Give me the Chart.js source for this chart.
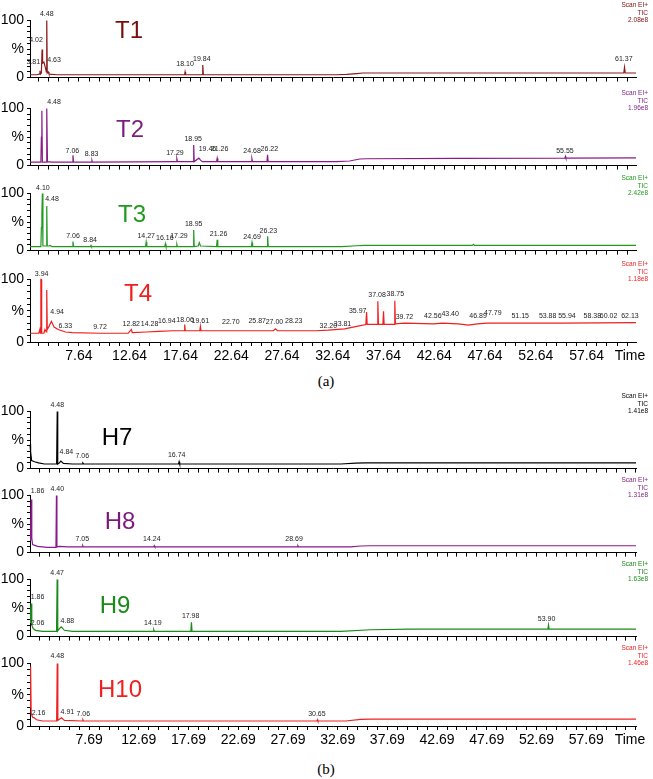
<!DOCTYPE html>
<html><head><meta charset="utf-8">
<script src="https://cdn.jsdelivr.net/npm/chart.js@4.4.1/dist/chart.umd.min.js"></script>
<style>
body{margin:0;background:#fff;width:653px;height:779px;position:relative;overflow:hidden;font-family:"Liberation Sans",Arial,sans-serif}
canvas{position:absolute;left:0}
.ttl{position:absolute;font-size:24px;transform:translate(-50%,-50%);white-space:nowrap}
.hdr{position:absolute;right:5px;font-size:6.5px;line-height:7.5px;text-align:right}
.cap{position:absolute;left:326px;transform:translate(-50%,-50%);font-family:"Liberation Serif","Times New Roman",serif;font-size:15px}
</style></head><body>
<div class="cap" style="top:381px">(a)</div>
<div class="cap" style="top:769px">(b)</div>
<script>
// time axis tick labels
const tickLabelsA = ['7.64','12.64','17.64','22.64','27.64','32.64','37.64','42.64','47.64','52.64','57.64'];
const tickLabelsB = ['7.69','12.69','17.69','22.69','27.69','32.69','37.69','42.69','47.69','52.69','57.69'];

// traces: [time, % intensity]
const t1Trace = [[2.83,5],[3.5,5],[3.75,6],[3.81,12],[3.86,6],[3.95,8],[4.02,49],[4.07,25],[4.2,27],[4.38,15],[4.44,10],[4.48,100],[4.53,8],[4.63,10],[4.7,6],[5.5,5],[10,5],[18.05,5],[18.1,10],[18.15,5],[19.78,5],[19.84,22],[19.9,5],[25,5],[33,5],[34,5.5],[35,7],[35.6,8],[45,8],[55,8],[61.3,8],[61.37,18],[61.44,8],[62.5,8]];
const t1Peaks = [[3.15,19,'3.81'],[3.42,57,'4.02'],[4.48,103,'4.48'],[5.2,22,'4.63'],[18.1,16,'18.10'],[19.75,25,'19.84'],[61.3,25,'61.37']];

const t2Trace = [[2.83,6],[3.9,6],[3.95,50],[4.0,96],[4.05,6],[4.42,6],[4.48,100],[4.55,7],[5,6],[7.0,6],[7.06,18],[7.12,6],[8.88,6],[8.93,9],[8.98,6],[17.23,7],[17.29,12],[17.35,7],[18.89,7],[18.95,36],[19.0,7],[19.46,13],[19.6,10],[19.8,7],[21.2,7],[21.26,13],[21.32,7],[24.62,7],[24.68,12],[24.74,7],[26.16,7],[26.22,19],[26.28,7],[33,7],[34.3,8],[35.3,11.5],[36,12],[45,12.5],[55.5,13],[55.55,16],[55.6,13],[62.5,13.5]];
const t2Peaks = [[5.2,104,'4.48'],[7.0,18,'7.06'],[8.9,12,'8.83'],[17.1,14,'17.29'],[18.9,38,'18.95'],[20.3,21,'19.46'],[21.5,21,'21.26'],[24.7,18,'24.68'],[26.4,21,'26.22'],[55.5,18,'55.55']];

const t3Trace = [[2.83,7],[3.9,7],[3.95,40],[4.0,63],[4.05,100],[4.1,8],[4.42,8],[4.48,78],[4.53,8],[4.7,8],[4.8,9],[5.0,7],[7.0,7],[7.06,16],[7.12,7],[8.79,7],[8.84,9],[8.89,7],[14.21,7],[14.27,15],[14.33,7],[16.1,7],[16.16,12],[16.22,7],[17.23,7],[17.29,11],[17.35,7],[18.9,7],[18.95,36],[19.0,7],[19.4,8],[19.5,14],[19.62,8],[21.2,7],[21.26,19],[21.32,7],[24.63,7],[24.69,14],[24.75,7],[26.17,7],[26.23,25],[26.29,7],[33.5,7],[35,8.5],[35.8,9],[46.4,9],[46.5,11],[46.6,9],[62.5,9]];
const t3Peaks = [[4.1,101,'4.10'],[5.0,83,'4.48'],[7.06,17,'7.06'],[8.75,11,'8.84'],[14.27,18,'14.27'],[16.1,14,'16.16'],[17.5,17,'17.29'],[18.95,38,'18.95'],[21.4,21,'21.26'],[24.7,16,'24.69'],[26.3,27,'26.23']];

const t4Trace = [[2.83,14],[3.7,14],[3.8,20],[3.85,14],[3.9,100],[3.94,100],[3.98,14],[4.2,14],[4.3,20],[4.44,16],[4.48,83],[4.53,20],[4.7,25],[4.94,33],[5.2,24],[5.6,20],[6.33,16],[7,15],[9.72,14],[12.5,14],[12.82,20],[12.9,15],[14.28,16],[15.5,17],[16.94,18],[18.0,18],[18.06,28],[18.12,18],[19.55,18],[19.61,25],[19.67,18],[22.7,18],[25.87,18],[26.8,18],[27.0,21],[27.2,18],[28.23,18],[31,18],[32.2,19],[33.81,21],[35.0,25],[35.9,28],[35.97,48],[36.03,28],[37.02,28],[37.08,65],[37.14,28],[37.58,28],[37.64,49],[37.7,28],[38.69,28],[38.75,66],[38.81,29],[39.72,30],[42.56,29],[43.4,30],[45,29],[46.0,27],[46.89,29],[47.79,30],[51.15,30],[55,30],[62.5,31]];
const t4Peaks = [[3.98,101,'3.94'],[5.5,40,'4.94'],[6.3,18,'6.33'],[9.72,17,'9.72'],[12.8,22,'12.82'],[14.6,22,'14.28'],[16.3,26,'16.94'],[18.1,28,'18.06'],[19.6,27,'19.61'],[22.6,25,'22.70'],[25.2,27,'25.87'],[26.9,25,'27.00'],[28.8,27,'28.23'],[32.2,19,'32.20'],[33.6,21,'33.81'],[35.1,43,'35.97'],[37.0,68,'37.08'],[38.8,69,'38.75'],[39.7,32,'39.72'],[42.5,34,'42.56'],[44.2,38,'43.40'],[46.95,34,'46.89'],[48.4,39,'47.79'],[51.1,35,'51.15'],[53.8,35,'53.88'],[55.7,35,'55.94'],[58.2,35,'58.38'],[59.8,35,'60.02'],[61.9,35,'62.13']];

const h7Trace = [[1.74,42],[1.8,30],[1.9,14],[2.2,12],[2.6,10],[3.2,8],[4.42,8],[4.48,100],[4.53,8],[4.7,10],[4.84,13],[5.1,9],[6.0,8],[7.0,8],[7.06,10],[7.15,8],[16.68,8],[16.74,12],[16.8,8],[25,8],[33,8],[34.5,9.5],[35.5,10],[45,10],[62.7,10]];
const h7Peaks = [[4.48,104,'4.48'],[5.4,21,'4.84'],[7.0,14,'7.06'],[16.5,15,'16.74']];

const h8Trace = [[1.74,22],[1.8,40],[1.86,93],[1.92,25],[2.0,14],[2.5,11],[3.5,9],[4.35,9],[4.40,100],[4.45,10],[4.7,11],[5.5,10],[7.0,10],[7.05,12],[7.1,10],[14.2,10],[14.24,12],[14.3,10],[28.65,10],[28.69,12],[28.75,10],[34,10],[35,11.5],[36,12],[62.7,12]];
const h8Peaks = [[2.5,100,'1.86'],[4.48,104,'4.40'],[7.0,16,'7.05'],[14.0,15,'14.24'],[28.3,15,'28.69']];

const h9Trace = [[1.74,25],[1.8,45],[1.86,58],[1.92,20],[2.06,14],[2.3,11],[3,9],[4.41,9],[4.47,100],[4.53,10],[4.7,14],[4.88,17],[5.2,11],[6,9],[14.13,9],[14.19,12],[14.25,9],[17.92,9],[17.98,25],[18.04,9],[33,9],[36,12],[40,13],[53.84,13],[53.9,20],[53.96,13],[62.7,13]];
const h9Peaks = [[2.5,62,'1.86'],[2.5,16,'2.06'],[4.47,104,'4.47'],[5.5,20,'4.88'],[14.1,15,'14.19'],[17.9,28,'17.98'],[53.7,23,'53.90']];

const h10Trace = [[1.74,30],[1.8,95],[1.86,20],[2.0,14],[2.16,13],[2.4,10],[3,8],[4.42,8],[4.48,100],[4.54,9],[4.91,13],[5.2,9],[7.0,8],[7.06,10],[7.12,8],[30.6,8],[30.65,10],[30.7,8],[33.5,8],[35,10.5],[36,11],[62.7,11]];
const h10Peaks = [[4.48,104,'4.48'],[2.6,14,'2.16'],[5.5,15,'4.91'],[7.1,12,'7.06'],[30.6,12,'30.65']];

const panels = [
  {name:'T1',trace:t1Trace,peaks:t1Peaks,color:'#8b1a1a',tcol:'#7a0c0c',y100:17,tx:129,ty:30,scale:'2.08e8',xr:[2.83,62.5],ticks:tickLabelsA,bottom:false},
  {name:'T2',trace:t2Trace,peaks:t2Peaks,color:'#8a1a8a',tcol:'#7a1e7e',y100:105,tx:130,ty:129,scale:'1.96e8',xr:[2.83,62.5],ticks:tickLabelsA,bottom:false},
  {name:'T3',trace:t3Trace,peaks:t3Peaks,color:'#1f9a1f',tcol:'#1e9a1e',y100:190,tx:132,ty:214,scale:'2.42e8',xr:[2.83,62.5],ticks:tickLabelsA,bottom:false},
  {name:'T4',trace:t4Trace,peaks:t4Peaks,color:'#f01e1e',tcol:'#f01e1e',y100:276,tx:138,ty:293,scale:'1.18e8',xr:[2.83,62.5],ticks:tickLabelsA,bottom:true},
  {name:'H7',trace:h7Trace,peaks:h7Peaks,color:'#000000',tcol:'#000000',y100:408,tx:117,ty:437,scale:'1.41e8',xr:[1.74,62.7],ticks:tickLabelsB,bottom:false},
  {name:'H8',trace:h8Trace,peaks:h8Peaks,color:'#8a1a8a',tcol:'#7a1a7a',y100:492,tx:120,ty:521,scale:'1.31e8',xr:[1.74,62.7],ticks:tickLabelsB,bottom:false},
  {name:'H9',trace:h9Trace,peaks:h9Peaks,color:'#1a8a1a',tcol:'#1a8a1a',y100:576,tx:115,ty:605,scale:'1.63e8',xr:[1.74,62.7],ticks:tickLabelsB,bottom:false},
  {name:'H10',trace:h10Trace,peaks:h10Peaks,color:'#f02020',tcol:'#f02020',y100:660,tx:120,ty:689,scale:'1.46e8',xr:[1.74,62.7],ticks:tickLabelsB,bottom:true}
];

const FONT = '"Liberation Sans", Arial, sans-serif';

// peak time labels + "Time" on bottom axes
const peakLabels = {
  id:'peakLabels',
  afterDatasetsDraw(chart, args, opts){
    const {ctx, scales:{x, y}} = chart;
    ctx.save();
    ctx.fillStyle = '#222';
    ctx.font = '7px ' + FONT;
    ctx.textAlign = 'center';
    ctx.textBaseline = 'bottom';
    opts.peaks.forEach(([t, v, txt]) => ctx.fillText(txt, x.getPixelForValue(t), y.getPixelForValue(v) - 1));
    if(opts.bottom){
      ctx.fillStyle = '#000';
      ctx.font = '14px ' + FONT;
      ctx.textBaseline = 'middle';
      ctx.fillText('Time', chart.chartArea.right - 6, chart.chartArea.bottom + 14);
    }
    ctx.restore();
  }
};

panels.forEach(p => {
  const padTop = 8, span = 66, axisH = p.bottom ? 26 : 6;
  const cv = document.createElement('canvas');
  cv.width = 653; cv.height = padTop + span + axisH;
  cv.style.top = (p.y100 - padTop) + 'px';
  document.body.appendChild(cv);

  const t = document.createElement('div');
  t.className = 'ttl'; t.textContent = p.name;
  t.style.left = p.tx + 'px'; t.style.top = p.ty + 'px'; t.style.color = p.tcol;
  document.body.appendChild(t);

  const h = document.createElement('div');
  h.className = 'hdr'; h.style.color = p.tcol;
  h.style.top = (p.y100 - 16) + 'px';
  h.innerHTML = 'Scan EI+<br>TIC<br>' + p.scale;
  document.body.appendChild(h);

  const start = parseFloat(p.ticks[0]);
  new Chart(cv, {
    type:'line',
    data:{datasets:[{
      data:p.trace.map(([x, y]) => ({x, y})),
      borderColor:p.color, borderWidth:1.2, pointRadius:0, tension:0, clip:false
    }]},
    options:{
      responsive:false, animation:false, events:[],
      layout:{padding:{top:padTop, right:17, left:0, bottom:0}},
      plugins:{legend:{display:false}, tooltip:{enabled:false}, peakLabels:{peaks:p.peaks, bottom:p.bottom}},
      scales:{
        x:{
          type:'linear', min:p.xr[0], max:p.xr[1],
          afterBuildTicks:s => {
            const arr = [];
            for(let v = start - Math.floor(start - s.min); v <= s.max; v += 1) arr.push({value:Math.round(v*100)/100});
            s.ticks = arr;
          },
          afterFit:s => { s.height = axisH; },
          grid:{drawOnChartArea:false, tickLength:4, color:'#000'},
          border:{color:'#000'},
          ticks:{autoSkip:false, maxRotation:0, padding:2, color:'#000', font:{size:14, family:FONT},
            callback:v => p.bottom ? (p.ticks.find(l => Math.abs(parseFloat(l) - v) < 1e-6) || '') : ''}
        },
        y:{
          min:0, max:100,
          afterFit:s => { s.width = 30; },
          grid:{drawOnChartArea:false, tickLength:3, color:'#000'},
          border:{color:'#000'},
          ticks:{stepSize:10, autoSkip:false, padding:3, color:'#000', font:{size:14, family:FONT},
            callback:v => v === 100 ? '100' : v === 50 ? '%' : v === 0 ? '0' : ''}
        }
      }
    },
    plugins:[peakLabels]
  });
});
</script>
</body></html>
